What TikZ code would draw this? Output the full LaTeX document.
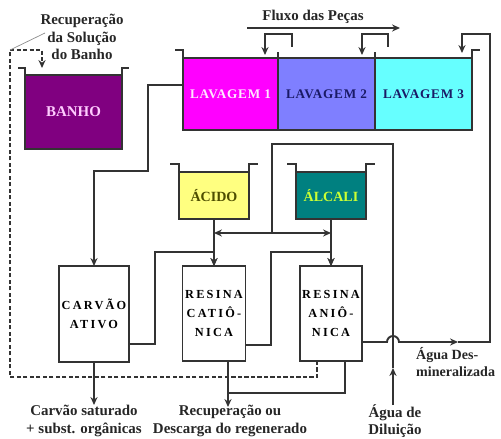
\documentclass[tikz,border=0pt]{standalone}
\usepackage{fontspec}
\setmainfont{Liberation Serif}
\usetikzlibrary{arrows.meta, positioning}
\definecolor{linec}{HTML}{333333}
\definecolor{banhoc}{HTML}{800080}
\definecolor{banhot}{HTML}{FFCCFF}
\definecolor{lavaic}{HTML}{FF00FF}
\definecolor{lavait}{HTML}{FFE6FF}
\definecolor{lavbic}{HTML}{7F7FFF}
\definecolor{lavcic}{HTML}{66FFFF}
\definecolor{lavdt}{HTML}{1A1A66}
\definecolor{acidoc}{HTML}{FFFF80}
\definecolor{acidot}{HTML}{4D4D00}
\definecolor{alcalic}{HTML}{008080}
\definecolor{alcalit}{HTML}{CCFF33}

\begin{document}
\begin{tikzpicture}[x=0.02cm, y=-0.02cm,
    tank/.style={rectangle, draw=linec, line width=1.1pt, outer sep=0pt, inner sep=0pt, align=center, font=\fontsize{8}{9}\selectfont\bfseries},
    lavagem/.style={tank, minimum width=1.94cm, minimum height=1.44cm, font=\fontsize{7.5}{8}\selectfont\bfseries\addfontfeature{LetterSpace=6}},
    column/.style={rectangle, draw=linec, line width=1.1pt, outer sep=0pt, fill=white, minimum height=1.9cm, inner sep=0pt, align=center, font=\fontsize{7}{11}\selectfont\bfseries\addfontfeature{LetterSpace=18}},
    pipe/.style={draw=linec, line width=1.1pt},
    arrow/.style={pipe, -{Stealth[length=4.5pt,width=4pt]}},
    recup/.style={pipe, dash pattern=on 2.5pt off 1.2pt, -{Stealth[length=4.5pt,width=4pt]}},
    note/.style={align=center, font=\fontsize{8.5}{10}\selectfont\bfseries, text=black!85}
]
\useasboundingbox (0,0) rectangle (501,439);

% Tanques
\node[tank, fill=banhoc, text=banhot, minimum width=1.94cm, minimum height=1.48cm, font=\fontsize{8.5}{9}\selectfont\bfseries] (banho) at (73.5,112) {BANHO};
\node[lavagem, fill=lavaic, text=lavait, minimum width=1.9cm] (lav1) at (230.5,94) {LAVAGEM 1};
\node[lavagem, fill=lavbic, text=lavdt, right=0pt of lav1] (lav2) {LAVAGEM 2};
\node[lavagem, fill=lavcic, text=lavdt, right=0pt of lav2] (lav3) {LAVAGEM 3};
\node[tank, fill=acidoc, text=acidot, minimum width=1.4cm, minimum height=0.94cm] (acido) at (214,195.5) {ÁCIDO};
\node[tank, fill=alcalic, text=alcalit, minimum width=1.4cm, minimum height=0.94cm] (alcali) at (331,195.5) {ÁLCALI};

% Colunas
\node[column, minimum width=1.4cm, minimum height=1.92cm] (carvao) at (94,314) {CARVÃO\\ATIVO};
\node[column, minimum width=1.26cm] (cation) at (214,313.5) {RESINA\\CATIÔ-\\NICA};
\node[column, minimum width=1.24cm] (anion) at (331,313.5) {RESINA\\ANIÔ-\\NICA};

% Bordas dos tanques
\draw[pipe] (banho.north west) -- ++(0,-7) -- ++(-7,0);
\draw[pipe] (banho.north east) -- ++(0,-7) -- ++(7,0);
\draw[pipe] (lav1.north west) -- ++(0,-8) -- ++(-8,0);
\draw[pipe] (lav3.north east) -- ++(0,-8) -- ++(8,0);
\draw[pipe] (lav1.north east) -- ++(0,-6);
\draw[pipe] (lav2.north east) -- ++(0,-6);
\draw[pipe] (acido.north west) -- ++(0,-8) -- ++(-9,0);
\draw[pipe] (acido.north east) -- ++(0,-8) -- ++(9,0);
\draw[pipe] (alcali.north west) -- ++(0,-8) -- ++(-9,0);
\draw[pipe] (alcali.north east) -- ++(0,-8) -- ++(9,0);

% Textos
\node[note] (fluxo) at (313,17) {Fluxo das Peças};
\node[note] (rec) at (82,37) {Recuperação\\da Solução\\do Banho};
\node[note] (carvlbl) at (84,421) {Carvão saturado\\+ subst. orgânicas};
\node[note] (reglbl) at (230,421) {Recuperação ou\\Descarga do regenerado};
\node[note] (dillbl) at (395,421) {Água de\\Diluição};
\node[note, align=left, anchor=west, font=\fontsize{8}{10}\selectfont\bfseries] (demlbl) at (410,362) {Água Des-\\mineralizada};

% Coordenadas
\coordinate (fluxA) at (247,28);
\coordinate (fluxB) at (400,28);
\coordinate (out2) at (292,47);
\coordinate (in1) at (265,55);
\coordinate (out3) at (388,47);
\coordinate (in2) at (362,55);
\coordinate (in3) at (462,53);
\coordinate (l1out) at (183,85);
\coordinate (cout) at (129,344);
\coordinate (catout) at (245,345);
\coordinate (aout) at (362,342);
\coordinate (dm) at (458,342);
\coordinate (dil) at (393,405);
\coordinate (dilmid) at (393,368);
\coordinate (mix) at (272,233);
\coordinate (carvend) at (94,405);
\coordinate (regend) at (228,407);
\coordinate (anreg) at (345,393);
\coordinate (dashx) at (317,377);
\coordinate (dcorner) at (10,50);
\coordinate (banhoin) at (42,68);

% Fluxo das pecas e contracorrente
\draw[arrow] (fluxA) -- (fluxB);
\draw[arrow] (out2) -- ++(0,-13) -| (in1);
\draw[arrow] (out3) -- ++(0,-13) -| (in2);

% Arraste para o carvao
\draw[arrow] (l1out) -- ++(-35,0) -- ++(0,86) -| (carvao.north);
\draw[arrow] (cout) -- ++(26,0) -- ++(0,-92) -| (cation.north);
\draw[arrow] (catout) -- ++(26,0) -- ++(0,-93) -| (anion.north);

% Regenerantes
\draw[arrow] (dil) -- (dilmid);
\draw[pipe] (dilmid) -- ++(0,-224) -| (mix);
\draw[arrow] (mix) -- (mix -| acido.south);
\draw[arrow] (mix) -- (mix -| alcali.south);
\draw[arrow] (acido) -- (cation);
\draw[arrow] (alcali) -- (anion);

% Agua desmineralizada
\draw[arrow] (aout) -- ++(25,0) arc[start angle=180, end angle=0, radius=0.12cm] -- (dm);
\draw[arrow] (dm) -- ++(32,0) -- ++(0,-308) -| (in3);

% Saidas
\draw[arrow] (carvao) -- (carvend);
\draw[arrow] (cation.south -| regend) -- (regend);
\draw[pipe] (anion.south -| anreg) -- (anreg) -- (anreg -| regend);

% Recuperacao do banho
\draw[recup] (anion.south -| dashx) -- (dashx) -- (dashx -| dcorner) -- (dcorner) -| (banhoin);
\draw[black!45, line width=0.4pt] ([shift={(-37,-4)}]rec.center) -- (dcorner);

\end{tikzpicture}
\end{document}
